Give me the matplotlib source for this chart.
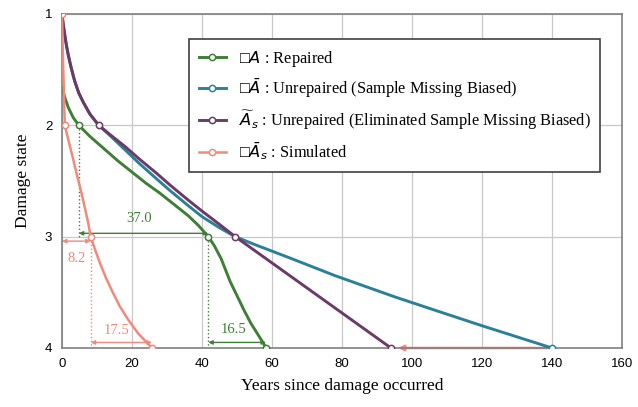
import matplotlib
matplotlib.use("Agg")
import matplotlib.pyplot as plt

# Curves (years, damage state)
green_x = [0, 0.8, 1.8, 3.2, 4.8, 8, 12, 16, 20, 24, 28, 32, 36, 39, 41.8,
           43.5, 45.5, 48, 50, 52, 54, 55.8, 57.2, 58.3]
green_y = [1.66, 1.75, 1.84, 1.93, 2.0, 2.1, 2.21, 2.32, 2.42, 2.52, 2.61, 2.71, 2.81, 2.9, 3.0,
           3.08, 3.2, 3.4, 3.53, 3.66, 3.78, 3.87, 3.94, 4.0]
green_marks = [4, 14, 23]

blue_x = [0, 0.3, 0.7, 1.2, 1.8, 2.6, 3.6, 4.8, 6.2, 8, 10.5, 14, 18, 22, 27, 31, 36, 40, 45, 49.5,
          55, 65, 78, 95, 106.5, 120, 130, 140]
blue_y = [1.0, 1.08, 1.17, 1.27, 1.37, 1.48, 1.6, 1.71, 1.8, 1.9, 2.0, 2.1, 2.22, 2.34, 2.48, 2.59,
          2.72, 2.82, 2.92, 3.0, 3.07, 3.19, 3.35, 3.54, 3.66, 3.8, 3.9, 4.0]
blue_marks = [27]

purple_x = [0, 0.3, 0.7, 1.2, 1.8, 2.6, 3.6, 4.8, 6.2, 8, 10.5, 14, 18, 22, 27, 31, 36, 40, 45, 49.5, 94]
purple_y = [1.0, 1.08, 1.17, 1.27, 1.37, 1.48, 1.6, 1.71, 1.8, 1.9, 2.0, 2.09, 2.19, 2.3, 2.43, 2.54,
            2.67, 2.77, 2.89, 3.0, 4.0]
purple_marks = [10, 19, 20]

salmon_x = [0, 0.2, 0.45, 0.8, 1.8, 3.0, 4.3, 5.5, 6.6, 7.5, 8.2, 9.5, 11, 12.7, 14.5, 16.6, 19, 21.8, 25.7]
salmon_y = [1.0, 1.3, 1.6, 2.0, 2.13, 2.28, 2.45, 2.6, 2.75, 2.88, 3.0, 3.12, 3.25, 3.38, 3.5, 3.63,
            3.75, 3.87, 4.0]
salmon_marks = [0, 3, 10, 18]

labels = [
    "\u25a1$\\mathit{A}$ : Repaired",
    "\u25a1$\\bar{A}$ : Unrepaired (Sample Missing Biased)",
    "$\\widetilde{A}_s$ : Unrepaired (Eliminated Sample Missing Biased)",
    "\u25a1$\\bar{A}_s$ : Simulated",
]

# interval annotations: (x0, x1, y, text, text_x, text_y)
gaps_green = [(4.8, 41.8, 2.97, "37.0", 22, 2.84), (41.8, 58.3, 3.95, "16.5", 49, 3.83)]
gaps_salmon = [(0, 8.2, 3.04, "8.2", 4.3, 3.2), (8.2, 25.7, 3.95, "17.5", 15.5, 3.84)]

c_green = "#3f7f35"
c_blue = "#2a7f9a"
c_purple = "#6b3a66"
c_salmon = "#f08a7a"

fig = plt.figure(figsize=(6.38, 4.07), dpi=100)
ax = fig.add_axes([62 / 638, 1 - 348 / 407, 560 / 638, 334 / 407])

mk = dict(marker="o", markersize=4.5, markerfacecolor="white", markeredgewidth=1.1)
ax.plot(green_x, green_y, color=c_green, lw=2.1, markevery=green_marks, label=labels[0], zorder=4, **mk)
ax.plot(blue_x, blue_y, color=c_blue, lw=2.1, markevery=blue_marks, label=labels[1], zorder=3, **mk)
ax.plot(purple_x, purple_y, color=c_purple, lw=2.1, markevery=purple_marks, label=labels[2], zorder=3, **mk)
ax.plot(salmon_x, salmon_y, color=c_salmon, lw=1.8, markevery=salmon_marks, label=labels[3], zorder=4, **mk)

# dotted guide lines
ax.plot([4.8, 4.8], [2.0, 3.0], ls=":", color=c_green, lw=1)
ax.plot([41.8, 41.8], [3.0, 4.0], ls=":", color=c_green, lw=1)
ax.plot([8.2, 8.2], [3.0, 4.0], ls=":", color=c_salmon, lw=1)

for gaps, col in [(gaps_green, c_green), (gaps_salmon, c_salmon)]:
    for x0, x1, y, txt, tx, ty in gaps:
        ax.annotate("", xy=(x1, y), xytext=(x0, y),
                    arrowprops=dict(arrowstyle="<|-|>", color=col, lw=1, mutation_scale=6,
                                    shrinkA=0, shrinkB=0))
        ax.text(tx, ty, txt, color=col, fontsize=10.5, family="Liberation Serif",
                ha="center", va="center")

# shift arrow from blue end to purple end
ax.annotate("", xy=(96, 4.0), xytext=(140, 4.0),
            arrowprops=dict(arrowstyle="-|>", color=c_salmon, lw=1.8, mutation_scale=8,
                            shrinkA=0, shrinkB=0), zorder=2)

ax.set_xlim(0, 160)
ax.set_ylim(4, 1)
ax.set_xticks(range(0, 161, 20))
ax.set_yticks([1, 2, 3, 4])
ax.grid(True, color="#c8c8c8", lw=0.9)
ax.set_axisbelow(True)
ax.tick_params(length=0, pad=7, labelsize=9.5)
for t in ax.get_xticklabels() + ax.get_yticklabels():
    t.set_family("Liberation Sans")
for s in ax.spines.values():
    s.set_color("#808080")
    s.set_linewidth(1.2)

ax.set_xlabel("Years since damage occurred", family="Liberation Serif", fontsize=12.5, labelpad=6)
ax.set_ylabel("Damage state", family="Liberation Serif", fontsize=12.5, labelpad=10)

leg = ax.legend(loc="upper left", bbox_to_anchor=(0.213, 0.95), prop={"family": "Liberation Serif", "size": 11.8},
                labelspacing=0.5, handlelength=1.6, borderpad=0.6, fancybox=False,
                edgecolor="#404040", framealpha=1)
leg.get_frame().set_linewidth(1.2)

fig.savefig("out.png", dpi=100)
